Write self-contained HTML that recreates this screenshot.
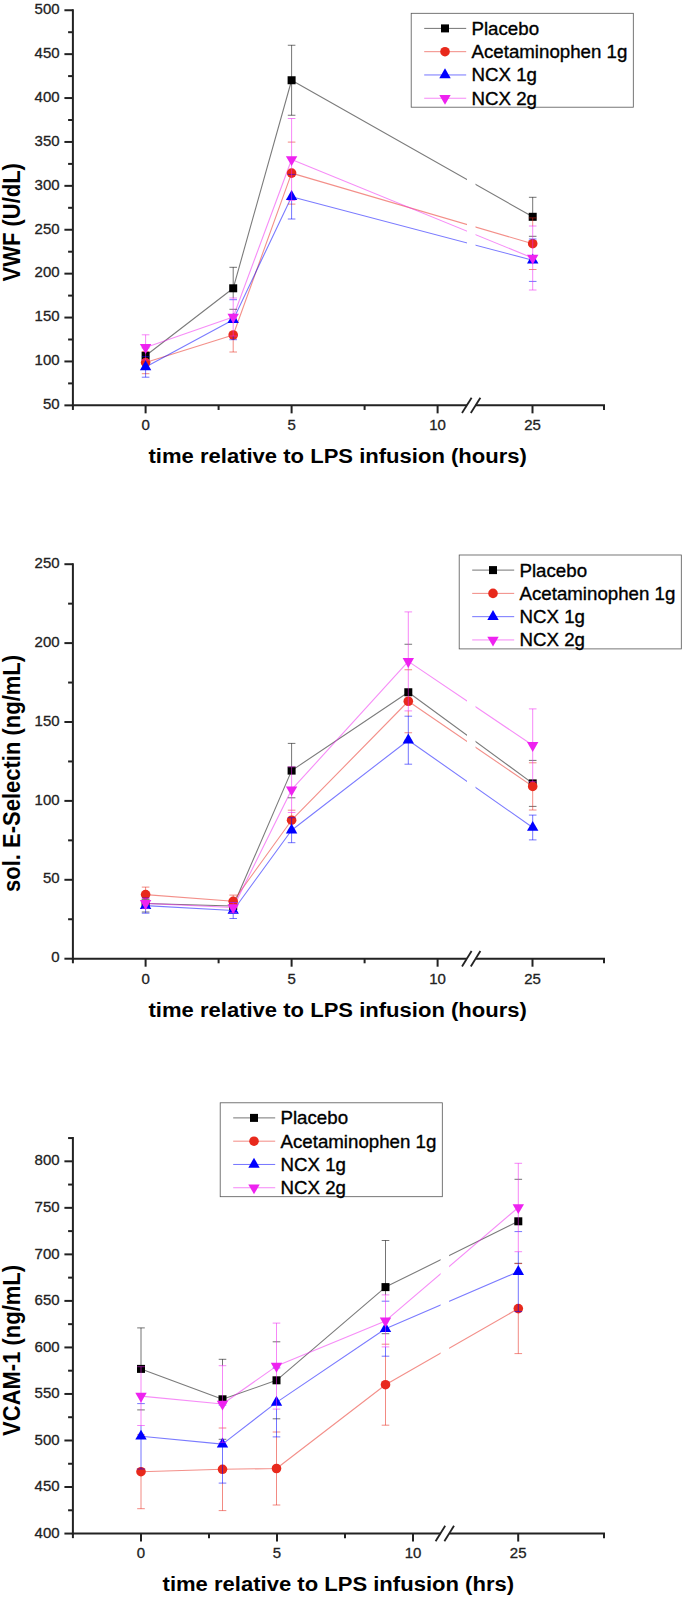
<!DOCTYPE html>
<html><head><meta charset="utf-8"><title>Figure</title>
<style>html,body{margin:0;padding:0;background:#fff;overflow:hidden}svg{display:block}text{font-family:"Liberation Sans", Arial, sans-serif}</style>
</head><body>
<svg width="685" height="1599" viewBox="0 0 685 1599">
<rect width="685" height="1599" fill="#fff"/>
<polyline points="145.60,355.80 233.20,288.30 291.60,80.25 532.70,216.80" fill="none" stroke="#000000" stroke-width="1.1" stroke-opacity="0.52" stroke-linejoin="round"/>
<polyline points="145.60,362.60 233.20,335.00 291.60,173.10 532.70,243.70" fill="none" stroke="#e8291c" stroke-width="1.1" stroke-opacity="0.52" stroke-linejoin="round"/>
<polyline points="145.60,366.90 233.20,319.70 291.60,196.70 532.70,260.20" fill="none" stroke="#0000ff" stroke-width="1.1" stroke-opacity="0.52" stroke-linejoin="round"/>
<polyline points="145.60,347.40 233.20,317.00 291.60,159.50 532.70,258.00" fill="none" stroke="#ee22f0" stroke-width="1.1" stroke-opacity="0.52" stroke-linejoin="round"/>
<rect x="467.00" y="10.20" width="8.50" height="393.15" fill="#fff"/>
<path d="M141.80,347.80h7.6M141.80,363.80h7.6" stroke="#000000" stroke-width="0.55" fill="none"/>
<path d="M233.20,267.30V298.00M229.40,267.30h7.6M229.40,309.30h7.6" stroke="#000000" stroke-width="0.55" fill="none"/>
<path d="M291.60,45.25V115.25M287.80,45.25h7.6M287.80,115.25h7.6" stroke="#000000" stroke-width="0.55" fill="none"/>
<path d="M532.70,197.30V217.90M528.90,197.30h7.6M528.90,236.30h7.6" stroke="#000000" stroke-width="0.55" fill="none"/>
<rect x="141.60" y="351.80" width="8.0" height="8.0" fill="#000000"/>
<rect x="229.20" y="284.30" width="8.0" height="8.0" fill="#000000"/>
<rect x="287.60" y="76.25" width="8.0" height="8.0" fill="#000000"/>
<rect x="528.70" y="212.80" width="8.0" height="8.0" fill="#000000"/>
<path d="M141.80,351.50h7.6M141.80,373.70h7.6" stroke="#e8291c" stroke-width="0.55" fill="none"/>
<path d="M233.20,339.70V352.00M229.40,318.00h7.6M229.40,352.00h7.6" stroke="#e8291c" stroke-width="0.55" fill="none"/>
<path d="M287.80,142.10h7.6M287.80,204.10h7.6" stroke="#e8291c" stroke-width="0.55" fill="none"/>
<path d="M532.70,217.90V226.00M528.90,217.90h7.6M528.90,269.50h7.6" stroke="#e8291c" stroke-width="0.55" fill="none"/>
<circle cx="145.60" cy="362.60" r="4.8" fill="#e8291c"/>
<circle cx="233.20" cy="335.00" r="4.8" fill="#e8291c"/>
<circle cx="291.60" cy="173.10" r="4.8" fill="#e8291c"/>
<circle cx="532.70" cy="243.70" r="4.8" fill="#e8291c"/>
<path d="M145.60,360.00V377.20M141.80,356.60h7.6M141.80,377.20h7.6" stroke="#0000ff" stroke-width="0.55" fill="none"/>
<path d="M233.20,336.00V339.70M229.40,299.70h7.6M229.40,339.70h7.6" stroke="#0000ff" stroke-width="0.55" fill="none"/>
<path d="M291.60,200.50V219.00M287.80,174.40h7.6M287.80,219.00h7.6" stroke="#0000ff" stroke-width="0.55" fill="none"/>
<path d="M528.90,239.00h7.6M528.90,281.40h7.6" stroke="#0000ff" stroke-width="0.55" fill="none"/>
<polygon points="145.60,360.30 151.30,370.20 139.90,370.20" fill="#0000ff"/>
<polygon points="233.20,313.10 238.90,323.00 227.50,323.00" fill="#0000ff"/>
<polygon points="291.60,190.10 297.30,200.00 285.90,200.00" fill="#0000ff"/>
<polygon points="532.70,253.60 538.40,263.50 527.00,263.50" fill="#0000ff"/>
<path d="M145.60,334.80V360.00M141.80,334.80h7.6M141.80,360.00h7.6" stroke="#ee22f0" stroke-width="0.55" fill="none"/>
<path d="M233.20,298.00V336.00M229.40,298.00h7.6M229.40,336.00h7.6" stroke="#ee22f0" stroke-width="0.55" fill="none"/>
<path d="M291.60,118.50V200.50M287.80,118.50h7.6M287.80,200.50h7.6" stroke="#ee22f0" stroke-width="0.55" fill="none"/>
<path d="M532.70,226.00V290.00M528.90,226.00h7.6M528.90,290.00h7.6" stroke="#ee22f0" stroke-width="0.55" fill="none"/>
<polygon points="145.60,354.00 151.30,344.10 139.90,344.10" fill="#ee22f0"/>
<polygon points="233.20,323.60 238.90,313.70 227.50,313.70" fill="#ee22f0"/>
<polygon points="291.60,166.10 297.30,156.20 285.90,156.20" fill="#ee22f0"/>
<polygon points="532.70,264.60 538.40,254.70 527.00,254.70" fill="#ee22f0"/>
<path d="M72.90,9.20V406.35" stroke="#222" stroke-width="2.0" fill="none"/>
<path d="M71.90,405.35H467.00M475.50,405.35H605.00" stroke="#222" stroke-width="2.0" fill="none"/>
<line x1="462.00" y1="413.05" x2="471.60" y2="397.65" stroke="#222" stroke-width="1.8"/>
<line x1="470.80" y1="413.05" x2="480.40" y2="397.65" stroke="#222" stroke-width="1.8"/>
<line x1="64.40" y1="405.35" x2="72.90" y2="405.35" stroke="#222" stroke-width="2.0"/>
<text transform="translate(59.60,409.13) scale(1.0,1.03)" font-size="15" text-anchor="end" fill="#222" stroke="#222" stroke-width="0.3">50</text>
<line x1="64.40" y1="361.45" x2="72.90" y2="361.45" stroke="#222" stroke-width="2.0"/>
<text transform="translate(59.60,365.23) scale(1.0,1.03)" font-size="15" text-anchor="end" fill="#222" stroke="#222" stroke-width="0.3">100</text>
<line x1="64.40" y1="317.55" x2="72.90" y2="317.55" stroke="#222" stroke-width="2.0"/>
<text transform="translate(59.60,321.33) scale(1.0,1.03)" font-size="15" text-anchor="end" fill="#222" stroke="#222" stroke-width="0.3">150</text>
<line x1="64.40" y1="273.65" x2="72.90" y2="273.65" stroke="#222" stroke-width="2.0"/>
<text transform="translate(59.60,277.43) scale(1.0,1.03)" font-size="15" text-anchor="end" fill="#222" stroke="#222" stroke-width="0.3">200</text>
<line x1="64.40" y1="229.75" x2="72.90" y2="229.75" stroke="#222" stroke-width="2.0"/>
<text transform="translate(59.60,233.53) scale(1.0,1.03)" font-size="15" text-anchor="end" fill="#222" stroke="#222" stroke-width="0.3">250</text>
<line x1="64.40" y1="185.85" x2="72.90" y2="185.85" stroke="#222" stroke-width="2.0"/>
<text transform="translate(59.60,189.63) scale(1.0,1.03)" font-size="15" text-anchor="end" fill="#222" stroke="#222" stroke-width="0.3">300</text>
<line x1="64.40" y1="141.95" x2="72.90" y2="141.95" stroke="#222" stroke-width="2.0"/>
<text transform="translate(59.60,145.73) scale(1.0,1.03)" font-size="15" text-anchor="end" fill="#222" stroke="#222" stroke-width="0.3">350</text>
<line x1="64.40" y1="98.05" x2="72.90" y2="98.05" stroke="#222" stroke-width="2.0"/>
<text transform="translate(59.60,101.83) scale(1.0,1.03)" font-size="15" text-anchor="end" fill="#222" stroke="#222" stroke-width="0.3">400</text>
<line x1="64.40" y1="54.15" x2="72.90" y2="54.15" stroke="#222" stroke-width="2.0"/>
<text transform="translate(59.60,57.93) scale(1.0,1.03)" font-size="15" text-anchor="end" fill="#222" stroke="#222" stroke-width="0.3">450</text>
<line x1="64.40" y1="10.25" x2="72.90" y2="10.25" stroke="#222" stroke-width="2.0"/>
<text transform="translate(59.60,14.03) scale(1.0,1.03)" font-size="15" text-anchor="end" fill="#222" stroke="#222" stroke-width="0.3">500</text>
<line x1="68.10" y1="383.40" x2="72.90" y2="383.40" stroke="#222" stroke-width="2.0"/>
<line x1="68.10" y1="339.50" x2="72.90" y2="339.50" stroke="#222" stroke-width="2.0"/>
<line x1="68.10" y1="295.60" x2="72.90" y2="295.60" stroke="#222" stroke-width="2.0"/>
<line x1="68.10" y1="251.70" x2="72.90" y2="251.70" stroke="#222" stroke-width="2.0"/>
<line x1="68.10" y1="207.80" x2="72.90" y2="207.80" stroke="#222" stroke-width="2.0"/>
<line x1="68.10" y1="163.90" x2="72.90" y2="163.90" stroke="#222" stroke-width="2.0"/>
<line x1="68.10" y1="120.00" x2="72.90" y2="120.00" stroke="#222" stroke-width="2.0"/>
<line x1="68.10" y1="76.10" x2="72.90" y2="76.10" stroke="#222" stroke-width="2.0"/>
<line x1="68.10" y1="32.20" x2="72.90" y2="32.20" stroke="#222" stroke-width="2.0"/>
<line x1="145.60" y1="405.35" x2="145.60" y2="413.35" stroke="#222" stroke-width="2.0"/>
<text transform="translate(145.60,430.18) scale(1.0,1.02)" font-size="15" text-anchor="middle" fill="#222" stroke="#222" stroke-width="0.3">0</text>
<line x1="291.60" y1="405.35" x2="291.60" y2="413.35" stroke="#222" stroke-width="2.0"/>
<text transform="translate(291.60,430.18) scale(1.0,1.02)" font-size="15" text-anchor="middle" fill="#222" stroke="#222" stroke-width="0.3">5</text>
<line x1="437.60" y1="405.35" x2="437.60" y2="413.35" stroke="#222" stroke-width="2.0"/>
<text transform="translate(437.60,430.18) scale(1.0,1.02)" font-size="15" text-anchor="middle" fill="#222" stroke="#222" stroke-width="0.3">10</text>
<line x1="532.50" y1="405.35" x2="532.50" y2="413.35" stroke="#222" stroke-width="2.0"/>
<text transform="translate(532.50,430.18) scale(1.0,1.02)" font-size="15" text-anchor="middle" fill="#222" stroke="#222" stroke-width="0.3">25</text>
<line x1="72.90" y1="405.35" x2="72.90" y2="409.95" stroke="#222" stroke-width="2.0"/>
<line x1="218.60" y1="405.35" x2="218.60" y2="409.95" stroke="#222" stroke-width="2.0"/>
<line x1="364.60" y1="405.35" x2="364.60" y2="409.95" stroke="#222" stroke-width="2.0"/>
<line x1="604.00" y1="405.35" x2="604.00" y2="409.95" stroke="#222" stroke-width="2.0"/>
<text transform="translate(20.00,222.30) rotate(-90) scale(1,1.06)" font-size="22.0" font-weight="bold" text-anchor="middle" fill="#000">VWF (U/dL)</text>
<text transform="translate(337.70,462.70) scale(1,0.95)" font-size="22.05" font-weight="bold" text-anchor="middle" fill="#000">time relative to LPS infusion (hours)</text>
<rect x="411.20" y="13.30" width="222.1" height="93.9" fill="#fff" stroke="#555" stroke-width="0.8"/>
<line x1="424.20" y1="28.40" x2="466.20" y2="28.40" stroke="#000000" stroke-width="0.55"/>
<rect x="441.00" y="24.40" width="8.0" height="8.0" fill="#000000"/>
<text x="471.50" y="34.80" font-size="18.7" fill="#000" stroke="#000" stroke-width="0.35">Placebo</text>
<line x1="424.20" y1="51.68" x2="466.20" y2="51.68" stroke="#e8291c" stroke-width="0.55"/>
<circle cx="445.00" cy="51.68" r="4.8" fill="#e8291c"/>
<text x="471.50" y="58.08" font-size="18.7" fill="#000" stroke="#000" stroke-width="0.35">Acetaminophen 1g</text>
<line x1="424.20" y1="74.96" x2="466.20" y2="74.96" stroke="#0000ff" stroke-width="0.55"/>
<polygon points="445.00,68.36 450.70,78.26 439.30,78.26" fill="#0000ff"/>
<text x="471.50" y="81.36" font-size="18.7" fill="#000" stroke="#000" stroke-width="0.35">NCX 1g</text>
<line x1="424.20" y1="98.24" x2="466.20" y2="98.24" stroke="#ee22f0" stroke-width="0.55"/>
<polygon points="445.00,104.84 450.70,94.94 439.30,94.94" fill="#ee22f0"/>
<text x="471.50" y="104.64" font-size="18.7" fill="#000" stroke="#000" stroke-width="0.35">NCX 2g</text>
<polyline points="145.60,903.50 233.20,906.00 291.60,770.60 408.30,692.25 532.70,783.40" fill="none" stroke="#000000" stroke-width="1.1" stroke-opacity="0.52" stroke-linejoin="round"/>
<polyline points="145.60,894.60 233.20,901.30 291.60,820.20 408.30,701.25 532.70,786.40" fill="none" stroke="#e8291c" stroke-width="1.1" stroke-opacity="0.52" stroke-linejoin="round"/>
<polyline points="145.60,905.60 233.20,910.50 291.60,830.20 408.30,740.20 532.70,827.50" fill="none" stroke="#0000ff" stroke-width="1.1" stroke-opacity="0.52" stroke-linejoin="round"/>
<polyline points="145.60,903.40 233.20,907.50 291.60,789.70 408.30,661.40 532.70,745.30" fill="none" stroke="#ee22f0" stroke-width="1.1" stroke-opacity="0.52" stroke-linejoin="round"/>
<rect x="467.00" y="564.20" width="8.50" height="392.50" fill="#fff"/>
<path d="M141.80,895.00h7.6M141.80,912.00h7.6" stroke="#000000" stroke-width="0.55" fill="none"/>
<path d="M229.40,901.00h7.6M229.40,911.00h7.6" stroke="#000000" stroke-width="0.55" fill="none"/>
<path d="M291.60,743.40V766.90M287.80,743.40h7.6M287.80,797.80h7.6" stroke="#000000" stroke-width="0.55" fill="none"/>
<path d="M404.50,644.25h7.6M404.50,740.25h7.6" stroke="#000000" stroke-width="0.55" fill="none"/>
<path d="M528.90,760.40h7.6M528.90,806.40h7.6" stroke="#000000" stroke-width="0.55" fill="none"/>
<rect x="141.60" y="899.50" width="8.0" height="8.0" fill="#000000"/>
<rect x="229.20" y="902.00" width="8.0" height="8.0" fill="#000000"/>
<rect x="287.60" y="766.60" width="8.0" height="8.0" fill="#000000"/>
<rect x="404.30" y="688.25" width="8.0" height="8.0" fill="#000000"/>
<rect x="528.70" y="779.40" width="8.0" height="8.0" fill="#000000"/>
<path d="M145.60,887.10V898.00M141.80,887.10h7.6M141.80,902.10h7.6" stroke="#e8291c" stroke-width="0.55" fill="none"/>
<path d="M233.20,895.10V902.50M229.40,895.10h7.6M229.40,907.50h7.6" stroke="#e8291c" stroke-width="0.55" fill="none"/>
<path d="M291.60,812.50V817.70M287.80,810.20h7.6M287.80,830.20h7.6" stroke="#e8291c" stroke-width="0.55" fill="none"/>
<path d="M408.30,710.90V716.20M404.50,669.75h7.6M404.50,732.75h7.6" stroke="#e8291c" stroke-width="0.55" fill="none"/>
<path d="M532.70,781.70V810.00M528.90,762.80h7.6M528.90,810.00h7.6" stroke="#e8291c" stroke-width="0.55" fill="none"/>
<circle cx="145.60" cy="894.60" r="4.8" fill="#e8291c"/>
<circle cx="233.20" cy="901.30" r="4.8" fill="#e8291c"/>
<circle cx="291.60" cy="820.20" r="4.8" fill="#e8291c"/>
<circle cx="408.30" cy="701.25" r="4.8" fill="#e8291c"/>
<circle cx="532.70" cy="786.40" r="4.8" fill="#e8291c"/>
<path d="M145.60,898.00V898.40M145.60,908.40V913.20M141.80,898.00h7.6M141.80,913.20h7.6" stroke="#0000ff" stroke-width="0.55" fill="none"/>
<path d="M233.20,912.50V918.50M229.40,902.50h7.6M229.40,918.50h7.6" stroke="#0000ff" stroke-width="0.55" fill="none"/>
<path d="M291.60,817.70V842.70M287.80,817.70h7.6M287.80,842.70h7.6" stroke="#0000ff" stroke-width="0.55" fill="none"/>
<path d="M408.30,716.20V764.20M404.50,716.20h7.6M404.50,764.20h7.6" stroke="#0000ff" stroke-width="0.55" fill="none"/>
<path d="M532.70,815.10V839.90M528.90,815.10h7.6M528.90,839.90h7.6" stroke="#0000ff" stroke-width="0.55" fill="none"/>
<polygon points="145.60,899.00 151.30,908.90 139.90,908.90" fill="#0000ff"/>
<polygon points="233.20,903.90 238.90,913.80 227.50,913.80" fill="#0000ff"/>
<polygon points="291.60,823.60 297.30,833.50 285.90,833.50" fill="#0000ff"/>
<polygon points="408.30,733.60 414.00,743.50 402.60,743.50" fill="#0000ff"/>
<polygon points="532.70,820.90 538.40,830.80 527.00,830.80" fill="#0000ff"/>
<path d="M145.60,898.40V908.40M141.80,898.40h7.6M141.80,908.40h7.6" stroke="#ee22f0" stroke-width="0.55" fill="none"/>
<path d="M233.20,902.50V912.50M229.40,902.50h7.6M229.40,912.50h7.6" stroke="#ee22f0" stroke-width="0.55" fill="none"/>
<path d="M291.60,766.90V812.50M287.80,766.90h7.6M287.80,812.50h7.6" stroke="#ee22f0" stroke-width="0.55" fill="none"/>
<path d="M408.30,611.90V710.90M404.50,611.90h7.6M404.50,710.90h7.6" stroke="#ee22f0" stroke-width="0.55" fill="none"/>
<path d="M532.70,708.90V781.70M528.90,708.90h7.6M528.90,781.70h7.6" stroke="#ee22f0" stroke-width="0.55" fill="none"/>
<polygon points="145.60,910.00 151.30,900.10 139.90,900.10" fill="#ee22f0"/>
<polygon points="233.20,914.10 238.90,904.20 227.50,904.20" fill="#ee22f0"/>
<polygon points="291.60,796.30 297.30,786.40 285.90,786.40" fill="#ee22f0"/>
<polygon points="408.30,668.00 414.00,658.10 402.60,658.10" fill="#ee22f0"/>
<polygon points="532.70,751.90 538.40,742.00 527.00,742.00" fill="#ee22f0"/>
<path d="M72.90,563.20V959.70" stroke="#222" stroke-width="2.0" fill="none"/>
<path d="M71.90,958.70H467.00M475.50,958.70H605.00" stroke="#222" stroke-width="2.0" fill="none"/>
<line x1="462.00" y1="966.40" x2="471.60" y2="951.00" stroke="#222" stroke-width="1.8"/>
<line x1="470.80" y1="966.40" x2="480.40" y2="951.00" stroke="#222" stroke-width="1.8"/>
<line x1="64.40" y1="958.70" x2="72.90" y2="958.70" stroke="#222" stroke-width="2.0"/>
<text transform="translate(59.60,962.38) scale(1.0,1.03)" font-size="15" text-anchor="end" fill="#222" stroke="#222" stroke-width="0.3">0</text>
<line x1="64.40" y1="879.80" x2="72.90" y2="879.80" stroke="#222" stroke-width="2.0"/>
<text transform="translate(59.60,883.48) scale(1.0,1.03)" font-size="15" text-anchor="end" fill="#222" stroke="#222" stroke-width="0.3">50</text>
<line x1="64.40" y1="800.90" x2="72.90" y2="800.90" stroke="#222" stroke-width="2.0"/>
<text transform="translate(59.60,804.58) scale(1.0,1.03)" font-size="15" text-anchor="end" fill="#222" stroke="#222" stroke-width="0.3">100</text>
<line x1="64.40" y1="722.00" x2="72.90" y2="722.00" stroke="#222" stroke-width="2.0"/>
<text transform="translate(59.60,725.68) scale(1.0,1.03)" font-size="15" text-anchor="end" fill="#222" stroke="#222" stroke-width="0.3">150</text>
<line x1="64.40" y1="643.10" x2="72.90" y2="643.10" stroke="#222" stroke-width="2.0"/>
<text transform="translate(59.60,646.78) scale(1.0,1.03)" font-size="15" text-anchor="end" fill="#222" stroke="#222" stroke-width="0.3">200</text>
<line x1="64.40" y1="564.20" x2="72.90" y2="564.20" stroke="#222" stroke-width="2.0"/>
<text transform="translate(59.60,567.88) scale(1.0,1.03)" font-size="15" text-anchor="end" fill="#222" stroke="#222" stroke-width="0.3">250</text>
<line x1="68.10" y1="919.25" x2="72.90" y2="919.25" stroke="#222" stroke-width="2.0"/>
<line x1="68.10" y1="840.35" x2="72.90" y2="840.35" stroke="#222" stroke-width="2.0"/>
<line x1="68.10" y1="761.45" x2="72.90" y2="761.45" stroke="#222" stroke-width="2.0"/>
<line x1="68.10" y1="682.55" x2="72.90" y2="682.55" stroke="#222" stroke-width="2.0"/>
<line x1="68.10" y1="603.65" x2="72.90" y2="603.65" stroke="#222" stroke-width="2.0"/>
<line x1="145.60" y1="958.70" x2="145.60" y2="966.70" stroke="#222" stroke-width="2.0"/>
<text transform="translate(145.60,984.48) scale(1.0,1.02)" font-size="15" text-anchor="middle" fill="#222" stroke="#222" stroke-width="0.3">0</text>
<line x1="291.60" y1="958.70" x2="291.60" y2="966.70" stroke="#222" stroke-width="2.0"/>
<text transform="translate(291.60,984.48) scale(1.0,1.02)" font-size="15" text-anchor="middle" fill="#222" stroke="#222" stroke-width="0.3">5</text>
<line x1="437.60" y1="958.70" x2="437.60" y2="966.70" stroke="#222" stroke-width="2.0"/>
<text transform="translate(437.60,984.48) scale(1.0,1.02)" font-size="15" text-anchor="middle" fill="#222" stroke="#222" stroke-width="0.3">10</text>
<line x1="532.50" y1="958.70" x2="532.50" y2="966.70" stroke="#222" stroke-width="2.0"/>
<text transform="translate(532.50,984.48) scale(1.0,1.02)" font-size="15" text-anchor="middle" fill="#222" stroke="#222" stroke-width="0.3">25</text>
<line x1="72.90" y1="958.70" x2="72.90" y2="963.30" stroke="#222" stroke-width="2.0"/>
<line x1="218.60" y1="958.70" x2="218.60" y2="963.30" stroke="#222" stroke-width="2.0"/>
<line x1="364.60" y1="958.70" x2="364.60" y2="963.30" stroke="#222" stroke-width="2.0"/>
<line x1="604.00" y1="958.70" x2="604.00" y2="963.30" stroke="#222" stroke-width="2.0"/>
<text transform="translate(20.10,773.40) rotate(-90) scale(1,1.06)" font-size="22.0" font-weight="bold" text-anchor="middle" fill="#000">sol. E-Selectin (ng/mL)</text>
<text transform="translate(337.70,1017.00) scale(1,0.95)" font-size="22.05" font-weight="bold" text-anchor="middle" fill="#000">time relative to LPS infusion (hours)</text>
<rect x="459.20" y="555.00" width="222.1" height="93.9" fill="#fff" stroke="#555" stroke-width="0.8"/>
<line x1="472.20" y1="570.10" x2="514.20" y2="570.10" stroke="#000000" stroke-width="0.55"/>
<rect x="489.00" y="566.10" width="8.0" height="8.0" fill="#000000"/>
<text x="519.50" y="576.50" font-size="18.7" fill="#000" stroke="#000" stroke-width="0.35">Placebo</text>
<line x1="472.20" y1="593.38" x2="514.20" y2="593.38" stroke="#e8291c" stroke-width="0.55"/>
<circle cx="493.00" cy="593.38" r="4.8" fill="#e8291c"/>
<text x="519.50" y="599.78" font-size="18.7" fill="#000" stroke="#000" stroke-width="0.35">Acetaminophen 1g</text>
<line x1="472.20" y1="616.66" x2="514.20" y2="616.66" stroke="#0000ff" stroke-width="0.55"/>
<polygon points="493.00,610.06 498.70,619.96 487.30,619.96" fill="#0000ff"/>
<text x="519.50" y="623.06" font-size="18.7" fill="#000" stroke="#000" stroke-width="0.35">NCX 1g</text>
<line x1="472.20" y1="639.94" x2="514.20" y2="639.94" stroke="#ee22f0" stroke-width="0.55"/>
<polygon points="493.00,646.54 498.70,636.64 487.30,636.64" fill="#ee22f0"/>
<text x="519.50" y="646.34" font-size="18.7" fill="#000" stroke="#000" stroke-width="0.35">NCX 2g</text>
<polyline points="141.00,1368.90 222.50,1399.30 276.50,1380.30 385.50,1287.10 518.30,1221.30" fill="none" stroke="#000000" stroke-width="1.1" stroke-opacity="0.52" stroke-linejoin="round"/>
<polyline points="141.00,1471.70 222.50,1469.30 276.50,1468.50 385.50,1384.70 518.30,1308.60" fill="none" stroke="#e8291c" stroke-width="1.1" stroke-opacity="0.52" stroke-linejoin="round"/>
<polyline points="141.00,1436.30 222.50,1444.10 276.50,1402.40 385.50,1328.70 518.30,1271.60" fill="none" stroke="#0000ff" stroke-width="1.1" stroke-opacity="0.52" stroke-linejoin="round"/>
<polyline points="141.00,1396.10 222.50,1404.00 276.50,1366.10 385.50,1320.90 518.30,1207.50" fill="none" stroke="#ee22f0" stroke-width="1.1" stroke-opacity="0.52" stroke-linejoin="round"/>
<rect x="440.60" y="1138.10" width="8.50" height="393.45" fill="#fff"/>
<path d="M141.00,1327.90V1366.70M137.20,1327.90h7.6M137.20,1409.90h7.6" stroke="#000000" stroke-width="0.55" fill="none"/>
<path d="M222.50,1359.30V1365.70M218.70,1359.30h7.6M218.70,1439.30h7.6" stroke="#000000" stroke-width="0.55" fill="none"/>
<path d="M272.70,1341.80h7.6M272.70,1418.80h7.6" stroke="#000000" stroke-width="0.55" fill="none"/>
<path d="M385.50,1240.50V1294.90M381.70,1240.50h7.6M381.70,1333.70h7.6" stroke="#000000" stroke-width="0.55" fill="none"/>
<path d="M514.50,1179.30h7.6M514.50,1263.30h7.6" stroke="#000000" stroke-width="0.55" fill="none"/>
<rect x="137.00" y="1364.90" width="8.0" height="8.0" fill="#000000"/>
<rect x="218.50" y="1395.30" width="8.0" height="8.0" fill="#000000"/>
<rect x="272.50" y="1376.30" width="8.0" height="8.0" fill="#000000"/>
<rect x="381.50" y="1283.10" width="8.0" height="8.0" fill="#000000"/>
<rect x="514.30" y="1217.30" width="8.0" height="8.0" fill="#000000"/>
<path d="M141.00,1469.00V1508.70M137.20,1434.70h7.6M137.20,1508.70h7.6" stroke="#e8291c" stroke-width="0.55" fill="none"/>
<path d="M222.50,1483.10V1510.60M218.70,1428.00h7.6M218.70,1510.60h7.6" stroke="#e8291c" stroke-width="0.55" fill="none"/>
<path d="M276.50,1436.90V1505.00M272.70,1432.00h7.6M272.70,1505.00h7.6" stroke="#e8291c" stroke-width="0.55" fill="none"/>
<path d="M385.50,1356.20V1425.20M381.70,1344.20h7.6M381.70,1425.20h7.6" stroke="#e8291c" stroke-width="0.55" fill="none"/>
<path d="M518.30,1311.60V1353.60M514.50,1263.60h7.6M514.50,1353.60h7.6" stroke="#e8291c" stroke-width="0.55" fill="none"/>
<circle cx="141.00" cy="1471.70" r="4.8" fill="#e8291c"/>
<circle cx="222.50" cy="1469.30" r="4.8" fill="#e8291c"/>
<circle cx="276.50" cy="1468.50" r="4.8" fill="#e8291c"/>
<circle cx="385.50" cy="1384.70" r="4.8" fill="#e8291c"/>
<circle cx="518.30" cy="1308.60" r="4.8" fill="#e8291c"/>
<path d="M141.00,1425.50V1469.00M137.20,1403.60h7.6M137.20,1469.00h7.6" stroke="#0000ff" stroke-width="0.55" fill="none"/>
<path d="M222.50,1442.30V1483.10M218.70,1405.10h7.6M218.70,1483.10h7.6" stroke="#0000ff" stroke-width="0.55" fill="none"/>
<path d="M276.50,1409.10V1436.90M272.70,1367.90h7.6M272.70,1436.90h7.6" stroke="#0000ff" stroke-width="0.55" fill="none"/>
<path d="M385.50,1346.90V1356.20M381.70,1301.20h7.6M381.70,1356.20h7.6" stroke="#0000ff" stroke-width="0.55" fill="none"/>
<path d="M518.30,1251.70V1311.60M514.50,1231.60h7.6M514.50,1311.60h7.6" stroke="#0000ff" stroke-width="0.55" fill="none"/>
<polygon points="141.00,1429.70 146.70,1439.60 135.30,1439.60" fill="#0000ff"/>
<polygon points="222.50,1437.50 228.20,1447.40 216.80,1447.40" fill="#0000ff"/>
<polygon points="276.50,1395.80 282.20,1405.70 270.80,1405.70" fill="#0000ff"/>
<polygon points="385.50,1322.10 391.20,1332.00 379.80,1332.00" fill="#0000ff"/>
<polygon points="518.30,1265.00 524.00,1274.90 512.60,1274.90" fill="#0000ff"/>
<path d="M141.00,1366.70V1425.50M137.20,1366.70h7.6M137.20,1425.50h7.6" stroke="#ee22f0" stroke-width="0.55" fill="none"/>
<path d="M222.50,1365.70V1442.30M218.70,1365.70h7.6M218.70,1442.30h7.6" stroke="#ee22f0" stroke-width="0.55" fill="none"/>
<path d="M276.50,1323.10V1409.10M272.70,1323.10h7.6M272.70,1409.10h7.6" stroke="#ee22f0" stroke-width="0.55" fill="none"/>
<path d="M385.50,1294.90V1346.90M381.70,1294.90h7.6M381.70,1346.90h7.6" stroke="#ee22f0" stroke-width="0.55" fill="none"/>
<path d="M518.30,1163.30V1251.70M514.50,1163.30h7.6M514.50,1251.70h7.6" stroke="#ee22f0" stroke-width="0.55" fill="none"/>
<polygon points="141.00,1402.70 146.70,1392.80 135.30,1392.80" fill="#ee22f0"/>
<polygon points="222.50,1410.60 228.20,1400.70 216.80,1400.70" fill="#ee22f0"/>
<polygon points="276.50,1372.70 282.20,1362.80 270.80,1362.80" fill="#ee22f0"/>
<polygon points="385.50,1327.50 391.20,1317.60 379.80,1317.60" fill="#ee22f0"/>
<polygon points="518.30,1214.10 524.00,1204.20 512.60,1204.20" fill="#ee22f0"/>
<path d="M72.90,1137.10V1534.55" stroke="#222" stroke-width="2.0" fill="none"/>
<path d="M71.90,1533.55H440.60M449.10,1533.55H605.00" stroke="#222" stroke-width="2.0" fill="none"/>
<line x1="435.60" y1="1541.25" x2="445.20" y2="1525.85" stroke="#222" stroke-width="1.8"/>
<line x1="444.40" y1="1541.25" x2="454.00" y2="1525.85" stroke="#222" stroke-width="1.8"/>
<line x1="64.40" y1="1533.55" x2="72.90" y2="1533.55" stroke="#222" stroke-width="2.0"/>
<text transform="translate(59.60,1537.73) scale(1.0,1.03)" font-size="15" text-anchor="end" fill="#222" stroke="#222" stroke-width="0.3">400</text>
<line x1="64.40" y1="1487.02" x2="72.90" y2="1487.02" stroke="#222" stroke-width="2.0"/>
<text transform="translate(59.60,1491.20) scale(1.0,1.03)" font-size="15" text-anchor="end" fill="#222" stroke="#222" stroke-width="0.3">450</text>
<line x1="64.40" y1="1440.49" x2="72.90" y2="1440.49" stroke="#222" stroke-width="2.0"/>
<text transform="translate(59.60,1444.67) scale(1.0,1.03)" font-size="15" text-anchor="end" fill="#222" stroke="#222" stroke-width="0.3">500</text>
<line x1="64.40" y1="1393.96" x2="72.90" y2="1393.96" stroke="#222" stroke-width="2.0"/>
<text transform="translate(59.60,1398.14) scale(1.0,1.03)" font-size="15" text-anchor="end" fill="#222" stroke="#222" stroke-width="0.3">550</text>
<line x1="64.40" y1="1347.43" x2="72.90" y2="1347.43" stroke="#222" stroke-width="2.0"/>
<text transform="translate(59.60,1351.61) scale(1.0,1.03)" font-size="15" text-anchor="end" fill="#222" stroke="#222" stroke-width="0.3">600</text>
<line x1="64.40" y1="1300.90" x2="72.90" y2="1300.90" stroke="#222" stroke-width="2.0"/>
<text transform="translate(59.60,1305.08) scale(1.0,1.03)" font-size="15" text-anchor="end" fill="#222" stroke="#222" stroke-width="0.3">650</text>
<line x1="64.40" y1="1254.37" x2="72.90" y2="1254.37" stroke="#222" stroke-width="2.0"/>
<text transform="translate(59.60,1258.55) scale(1.0,1.03)" font-size="15" text-anchor="end" fill="#222" stroke="#222" stroke-width="0.3">700</text>
<line x1="64.40" y1="1207.84" x2="72.90" y2="1207.84" stroke="#222" stroke-width="2.0"/>
<text transform="translate(59.60,1212.02) scale(1.0,1.03)" font-size="15" text-anchor="end" fill="#222" stroke="#222" stroke-width="0.3">750</text>
<line x1="64.40" y1="1161.31" x2="72.90" y2="1161.31" stroke="#222" stroke-width="2.0"/>
<text transform="translate(59.60,1165.49) scale(1.0,1.03)" font-size="15" text-anchor="end" fill="#222" stroke="#222" stroke-width="0.3">800</text>
<line x1="68.10" y1="1510.28" x2="72.90" y2="1510.28" stroke="#222" stroke-width="2.0"/>
<line x1="68.10" y1="1463.75" x2="72.90" y2="1463.75" stroke="#222" stroke-width="2.0"/>
<line x1="68.10" y1="1417.22" x2="72.90" y2="1417.22" stroke="#222" stroke-width="2.0"/>
<line x1="68.10" y1="1370.69" x2="72.90" y2="1370.69" stroke="#222" stroke-width="2.0"/>
<line x1="68.10" y1="1324.16" x2="72.90" y2="1324.16" stroke="#222" stroke-width="2.0"/>
<line x1="68.10" y1="1277.63" x2="72.90" y2="1277.63" stroke="#222" stroke-width="2.0"/>
<line x1="68.10" y1="1231.11" x2="72.90" y2="1231.11" stroke="#222" stroke-width="2.0"/>
<line x1="68.10" y1="1184.57" x2="72.90" y2="1184.57" stroke="#222" stroke-width="2.0"/>
<line x1="68.10" y1="1138.05" x2="72.90" y2="1138.05" stroke="#222" stroke-width="2.0"/>
<line x1="141.00" y1="1533.55" x2="141.00" y2="1541.55" stroke="#222" stroke-width="2.0"/>
<text transform="translate(141.00,1557.98) scale(1.0,1.02)" font-size="15" text-anchor="middle" fill="#222" stroke="#222" stroke-width="0.3">0</text>
<line x1="277.00" y1="1533.55" x2="277.00" y2="1541.55" stroke="#222" stroke-width="2.0"/>
<text transform="translate(277.00,1557.98) scale(1.0,1.02)" font-size="15" text-anchor="middle" fill="#222" stroke="#222" stroke-width="0.3">5</text>
<line x1="413.00" y1="1533.55" x2="413.00" y2="1541.55" stroke="#222" stroke-width="2.0"/>
<text transform="translate(413.00,1557.98) scale(1.0,1.02)" font-size="15" text-anchor="middle" fill="#222" stroke="#222" stroke-width="0.3">10</text>
<line x1="518.20" y1="1533.55" x2="518.20" y2="1541.55" stroke="#222" stroke-width="2.0"/>
<text transform="translate(518.20,1557.98) scale(1.0,1.02)" font-size="15" text-anchor="middle" fill="#222" stroke="#222" stroke-width="0.3">25</text>
<line x1="72.90" y1="1533.55" x2="72.90" y2="1538.15" stroke="#222" stroke-width="2.0"/>
<line x1="209.00" y1="1533.55" x2="209.00" y2="1538.15" stroke="#222" stroke-width="2.0"/>
<line x1="345.00" y1="1533.55" x2="345.00" y2="1538.15" stroke="#222" stroke-width="2.0"/>
<line x1="604.00" y1="1533.55" x2="604.00" y2="1538.15" stroke="#222" stroke-width="2.0"/>
<text transform="translate(20.00,1350.40) rotate(-90) scale(1,1.06)" font-size="22.0" font-weight="bold" text-anchor="middle" fill="#000">VCAM-1 (ng/mL)</text>
<text transform="translate(338.30,1590.80) scale(1,0.95)" font-size="22.05" font-weight="bold" text-anchor="middle" fill="#000">time relative to LPS infusion (hrs)</text>
<rect x="220.20" y="1102.80" width="222.1" height="93.9" fill="#fff" stroke="#555" stroke-width="0.8"/>
<line x1="233.20" y1="1117.90" x2="275.20" y2="1117.90" stroke="#000000" stroke-width="0.55"/>
<rect x="250.00" y="1113.90" width="8.0" height="8.0" fill="#000000"/>
<text x="280.50" y="1124.30" font-size="18.7" fill="#000" stroke="#000" stroke-width="0.35">Placebo</text>
<line x1="233.20" y1="1141.18" x2="275.20" y2="1141.18" stroke="#e8291c" stroke-width="0.55"/>
<circle cx="254.00" cy="1141.18" r="4.8" fill="#e8291c"/>
<text x="280.50" y="1147.58" font-size="18.7" fill="#000" stroke="#000" stroke-width="0.35">Acetaminophen 1g</text>
<line x1="233.20" y1="1164.46" x2="275.20" y2="1164.46" stroke="#0000ff" stroke-width="0.55"/>
<polygon points="254.00,1157.86 259.70,1167.76 248.30,1167.76" fill="#0000ff"/>
<text x="280.50" y="1170.86" font-size="18.7" fill="#000" stroke="#000" stroke-width="0.35">NCX 1g</text>
<line x1="233.20" y1="1187.74" x2="275.20" y2="1187.74" stroke="#ee22f0" stroke-width="0.55"/>
<polygon points="254.00,1194.34 259.70,1184.44 248.30,1184.44" fill="#ee22f0"/>
<text x="280.50" y="1194.14" font-size="18.7" fill="#000" stroke="#000" stroke-width="0.35">NCX 2g</text>
</svg>
</body></html>
